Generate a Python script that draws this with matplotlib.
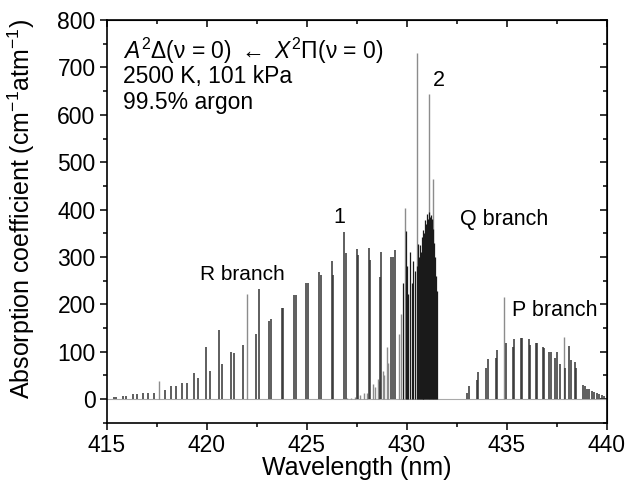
import matplotlib
matplotlib.use('Agg')
import matplotlib.pyplot as plt
from matplotlib.ticker import MultipleLocator

plt.rcParams['font.family'] = ['Liberation Sans', 'DejaVu Sans']
plt.rcParams['mathtext.fontset'] = 'custom'
plt.rcParams['mathtext.rm'] = 'Liberation Sans'
plt.rcParams['mathtext.it'] = 'Liberation Sans:italic'

# R branch lines (nm, cm-1 atm-1)
r_wl = [415.38, 415.45, 415.83, 415.98, 416.32, 416.53, 416.81, 417.08, 417.37, 417.92,
        418.20, 418.45, 418.75, 419.02, 419.38, 419.57, 419.97, 420.18, 420.60, 420.78,
        421.23, 421.38, 421.83, 422.45, 422.60, 423.10, 423.22, 423.75, 423.83, 424.37,
        424.47, 424.98, 425.07, 425.63, 425.72, 426.28, 426.33, 426.88, 426.95, 427.50,
        427.55, 428.12, 428.18, 428.67, 428.73, 429.22, 429.32, 429.42]
r_h = [4, 4, 6, 6, 10, 10, 14, 14, 14, 20,
       27, 27, 34, 34, 55, 45, 110, 59, 146, 75,
       100, 98, 115, 138, 232, 165, 170, 193, 193, 219,
       219, 245, 245, 269, 262, 291, 262, 353, 308, 316,
       305, 318, 293, 258, 311, 299, 299, 314]

# Q branch (dense head)
q_wl = [429.80, 429.97, 430.03, 430.08, 430.17, 430.25, 430.33, 430.42, 430.50, 430.58,
        430.63, 430.67, 430.71, 430.75, 430.79, 430.83, 430.87, 430.92, 430.96, 431.00,
        431.05, 431.10, 431.15, 431.20, 431.25, 431.29, 431.38, 431.42, 431.46, 431.50]
q_h = [246, 355, 280, 221, 311, 246, 292, 270, 280, 328,
       300, 325, 310, 342, 330, 357, 350, 378, 370, 391,
       380, 394, 385, 388, 380, 360, 330, 299, 260, 228]

# P branch
p_wl = [433.00, 433.10, 433.50, 433.58, 433.97, 434.05, 434.45, 434.52, 434.95, 435.30,
        435.37, 435.70, 435.78, 436.10, 436.17, 436.45, 436.53, 436.80, 436.88, 437.12,
        437.20, 437.40, 437.53, 437.67, 437.92, 438.12, 438.20, 438.42, 438.47, 438.83,
        438.90, 439.00, 439.12, 439.25, 439.37, 439.50, 439.62, 439.75, 439.87]
p_h = [14, 28, 41, 58, 65, 84, 86, 104, 118, 111,
       127, 129, 129, 127, 115, 119, 119, 111, 109, 99,
       99, 86, 99, 74, 65, 113, 83, 79, 65, 30,
       27, 22, 22, 17, 15, 12, 10, 8, 6]

# weaker / overlapping lines drawn in light grey
sat_wl = [427.00, 427.22, 427.42, 427.67, 427.87, 428.03, 428.30, 428.40, 428.55, 428.63,
          428.80, 428.87, 429.00, 429.08, 429.63, 429.72, 429.92, 430.53, 431.13, 431.33,
          434.88, 437.87, 417.62, 422.02]
sat_h = [2, 3, 5, 8, 14, 12, 32, 25, 43, 38,
         60, 50, 110, 77, 138, 180, 404, 731, 645, 464,
         216, 132, 38, 221]

assert len(r_wl) == len(r_h) and len(q_wl) == len(q_h)
assert len(p_wl) == len(p_h) and len(sat_wl) == len(sat_h)

fig = plt.figure(figsize=(6.26, 4.90), dpi=100)
ax = fig.add_axes([0.1705, 0.137, 0.7987, 0.822])

ax.axhline(0, color='#aaaaaa', lw=0.8, zorder=1)
ax.vlines(sat_wl, 0, sat_h, color='#8c8c8c', lw=1.0, zorder=2)
ax.vlines(r_wl, 0, r_h, color='#333333', lw=1.1, zorder=3)
ax.vlines(q_wl, 0, q_h, color='#1a1a1a', lw=0.9, zorder=3)
ax.vlines(p_wl, 0, p_h, color='#333333', lw=1.1, zorder=3)

ax.set_xlim(415, 440)
ax.set_ylim(-50, 800)
ax.xaxis.set_major_locator(MultipleLocator(5))
ax.xaxis.set_minor_locator(MultipleLocator(2.5))
ax.yaxis.set_major_locator(MultipleLocator(100))
ax.yaxis.set_minor_locator(MultipleLocator(50))
ax.tick_params(which='both', direction='out', labelsize=16.5, width=1.1, pad=3)
ax.tick_params(which='major', length=5)
ax.tick_params(which='minor', length=3)
for s in ax.spines.values():
    s.set_linewidth(1.2)

top = ax.secondary_xaxis('top')
top.xaxis.set_major_locator(MultipleLocator(5))
top.xaxis.set_minor_locator(MultipleLocator(2.5))
top.tick_params(which='both', direction='in', labeltop=False, width=1.1)
top.tick_params(which='major', length=5)
top.tick_params(which='minor', length=3)
right = ax.secondary_yaxis('right')
right.yaxis.set_major_locator(MultipleLocator(100))
right.yaxis.set_minor_locator(MultipleLocator(50))
right.tick_params(which='both', direction='in', labelright=False, width=1.1)
right.tick_params(which='major', length=5)
right.tick_params(which='minor', length=3)

ax.set_xlabel('Wavelength (nm)', fontsize=18)
ax.set_ylabel('Absorption coefficient (cm$^{-1}$atm$^{-1}$)', fontsize=18)
ax.xaxis.set_label_coords(0.5, -0.083)
ax.yaxis.set_label_coords(-0.14, 0.53)

ax.text(415.8, 736, r'$\mathit{A}^2$Δ(ν = 0) $\leftarrow$ $\mathit{X}^2$Π(ν = 0)',
        fontsize=16.5, va='center', ha='left')
ax.text(415.8, 681, '2500 K, 101 kPa', fontsize=16.5, va='center', ha='left')
ax.text(415.8, 627, '99.5% argon', fontsize=16.5, va='center', ha='left')

ax.text(421.77, 264, 'R branch', fontsize=15, ha='center', va='center')
ax.text(426.64, 384, '1', fontsize=15.5, ha='center', va='center')
ax.text(431.6, 672, '2', fontsize=15.5, ha='center', va='center')
ax.text(434.85, 379, 'Q branch', fontsize=15.5, ha='center', va='center')
ax.text(437.4, 187, 'P branch', fontsize=15.5, ha='center', va='center')

fig.savefig('out.png', dpi=100)
